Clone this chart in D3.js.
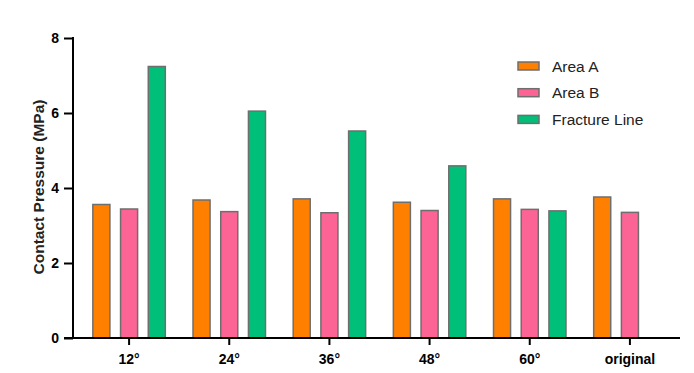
<!DOCTYPE html>
<html>
<head>
<meta charset="utf-8">
<script src="https://cdn.jsdelivr.net/npm/d3@7"></script>
<style>
  body { margin: 0; background: #fff; }
  svg { font-family: 'Liberation Sans', Arial, sans-serif; }
</style>
</head>
<body>
<div id="chart"></div>
<script>
var categories = ['12°', '24°', '36°', '48°', '60°', 'original'];
var series = ['Area A', 'Area B', 'Fracture Line'];
var areaA = [3.56, 3.68, 3.71, 3.62, 3.71, 3.76];
var areaB = [3.44, 3.37, 3.34, 3.40, 3.43, 3.35];
var fractureLine = [7.24, 6.05, 5.52, 4.59, 3.39, null];
var yTicks = [0, 2, 4, 6, 8];
var colors = ['#ff8000', '#fd6496', '#00bf78'];

var values = [areaA, areaB, fractureLine];

var width = 694, height = 373;
var svg = d3.select('#chart').append('svg')
  .attr('width', width)
  .attr('height', height);

var x = d3.scaleBand().domain(categories).range([79, 680]);
var x1 = d3.scaleBand().domain(series).range([-41.5, 41.5])
  .paddingInner(0.385).paddingOuter(0.19);
var y = d3.scaleLinear().domain([0, 8]).range([338, 38]);

// bars
series.forEach(function(s, si) {
  var data = categories.map(function(c, i) {
    return {cat: c, value: values[si][i]};
  }).filter(function(d) { return d.value != null; });

  svg.append('g').selectAll('rect').data(data).enter()
    .append('rect')
    .attr('x', function(d) { return x(d.cat) + x.bandwidth() / 2 + x1(s); })
    .attr('width', x1.bandwidth())
    .attr('y', function(d) { return y(d.value); })
    .attr('height', function(d) { return y(0) - y(d.value); })
    .attr('fill', colors[si])
    .attr('stroke', '#6e6e6e')
    .attr('stroke-width', 1.5);
});

// y axis
var yaxis = svg.append('g')
  .attr('transform', 'translate(73,0)')
  .call(d3.axisLeft(y).tickValues(yTicks).tickSize(9).tickPadding(5));
yaxis.select('.domain').attr('stroke-width', 2).attr('d', 'M0,37V338');
yaxis.selectAll('.tick line').attr('stroke-width', 2);
yaxis.selectAll('.tick text')
  .attr('font-size', 14).attr('font-weight', 'bold').attr('fill', '#000')
  .attr('font-family', "'Liberation Sans', Arial, sans-serif");

// x axis
var xaxis = svg.append('g')
  .attr('transform', 'translate(0,338)')
  .call(d3.axisBottom(x).tickSize(7).tickPadding(9));
xaxis.select('.domain').attr('stroke-width', 2).attr('d', 'M64,0H680');
xaxis.selectAll('.tick line').attr('stroke-width', 2);
xaxis.selectAll('.tick text')
  .attr('font-size', 14).attr('font-weight', 'bold').attr('fill', '#000')
  .attr('font-family', "'Liberation Sans', Arial, sans-serif");

// y label
svg.append('text')
  .attr('transform', 'translate(44,187) rotate(-90)')
  .attr('text-anchor', 'middle')
  .attr('font-size', 15.5)
  .attr('font-weight', 'bold')
  .attr('fill', '#222')
  .text('Contact Pressure (MPa)');

// legend
var legend = svg.append('g').attr('transform', 'translate(518,62)');
series.forEach(function(s, i) {
  var g = legend.append('g').attr('transform', 'translate(0,' + (i * 26.7) + ')');
  g.append('rect')
    .attr('width', 21).attr('height', 8)
    .attr('fill', colors[i])
    .attr('stroke', '#6e6e6e').attr('stroke-width', 1.5);
  g.append('text')
    .attr('x', 34).attr('y', 9.5)
    .attr('font-size', 15.5)
    .attr('fill', '#222')
    .text(s);
});
</script>
</body>
</html>
